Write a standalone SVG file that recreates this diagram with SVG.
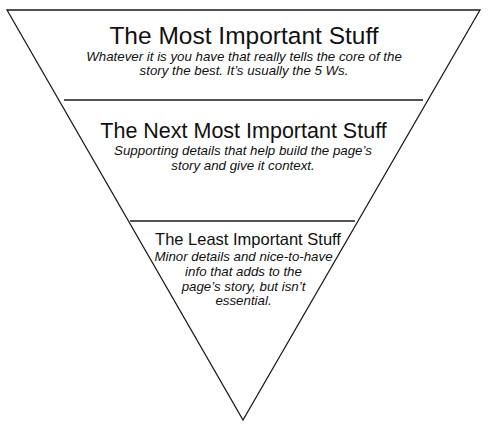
<svg xmlns="http://www.w3.org/2000/svg" width="490" height="433" viewBox="0 0 490 433">
  <style>
    .edge { fill: none; stroke: #1a1a1a; stroke-width: 1.3; stroke-linejoin: miter; }
    .title { font-family: "Liberation Sans", Arial, sans-serif; fill: #111; text-anchor: middle; }
    .sub { font-family: "Liberation Sans", Arial, sans-serif; font-style: italic; font-size: 13.3px; fill: #111; text-anchor: middle; }
  </style>
  <rect x="0" y="0" width="490" height="433" fill="#ffffff"/>
  <g id="connectors">
    <polygon class="edge" points="7,10 480,10 243,420"/>
    <line class="edge" x1="64" y1="100" x2="423" y2="100"/>
    <line class="edge" x1="130" y1="221" x2="355" y2="221"/>
  </g>
  <g id="most-important">
    <text class="title" x="244" y="43.5" font-size="24.5">The Most Important Stuff</text>
    <text class="sub" x="244" y="60.7">Whatever it is you have that really tells the core of the</text>
    <text class="sub" x="244" y="75.3">story the best. It’s usually the 5 Ws.</text>
  </g>
  <g id="next-most-important">
    <text class="title" x="243.5" y="138.3" font-size="21.5">The Next Most Important Stuff</text>
    <text class="sub" x="243" y="155">Supporting details that help build the page’s</text>
    <text class="sub" x="243" y="169.5">story and give it context.</text>
  </g>
  <g id="least-important">
    <text class="title" x="248" y="245.3" font-size="16.5">The Least Important Stuff</text>
    <text class="sub" x="243.5" y="261.3">Minor details and nice-to-have</text>
    <text class="sub" x="243.5" y="276.2">info that adds to the</text>
    <text class="sub" x="243.5" y="290.7">page’s story, but isn’t</text>
    <text class="sub" x="243.5" y="305.3">essential.</text>
  </g>
</svg>
